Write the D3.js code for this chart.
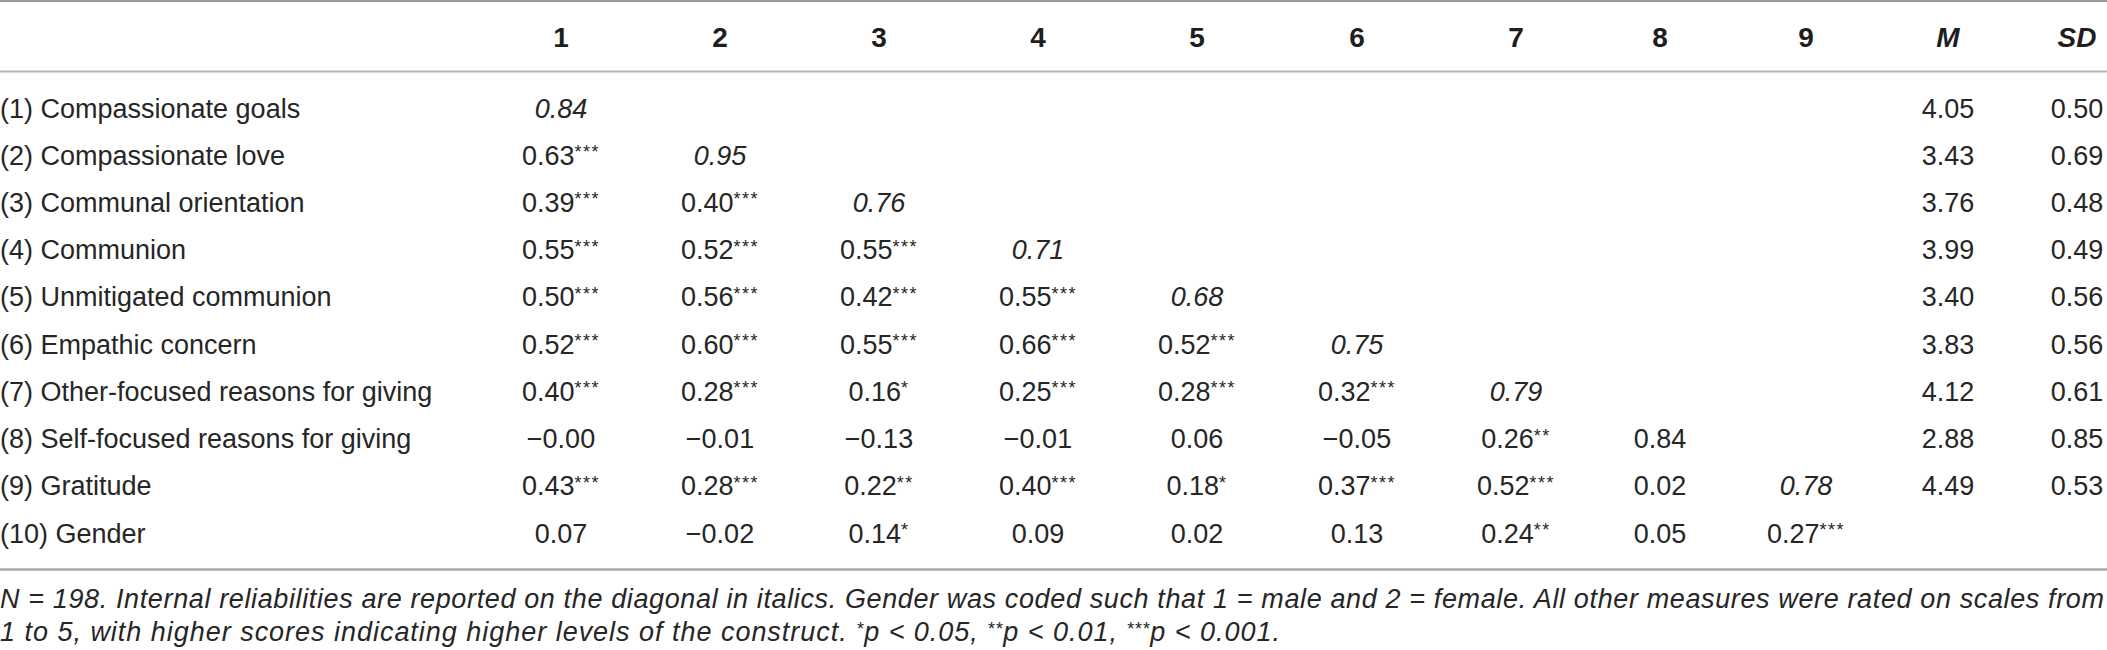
<!DOCTYPE html>
<html><head><meta charset="utf-8">
<script src="https://cdn.jsdelivr.net/npm/d3@7/dist/d3.min.js"></script>
<style>
html,body{margin:0;padding:0;background:#fff;}
svg text{font-family:"Liberation Sans",Arial,Helvetica,sans-serif;}
</style></head>
<body><svg id="chart" width="2107" height="650"></svg>
<script>
// ---- data ----
const rowLabels = [
  "(1) Compassionate goals",
  "(2) Compassionate love",
  "(3) Communal orientation",
  "(4) Communion",
  "(5) Unmitigated communion",
  "(6) Empathic concern",
  "(7) Other-focused reasons for giving",
  "(8) Self-focused reasons for giving",
  "(9) Gratitude",
  "(10) Gender"
];
const colHeaders = ["1","2","3","4","5","6","7","8","9","M","SD"];
const corrValues = [
  ["0.84"],
  ["0.63","0.95"],
  ["0.39","0.40","0.76"],
  ["0.55","0.52","0.55","0.71"],
  ["0.50","0.56","0.42","0.55","0.68"],
  ["0.52","0.60","0.55","0.66","0.52","0.75"],
  ["0.40","0.28","0.16","0.25","0.28","0.32","0.79"],
  ["\u22120.00","\u22120.01","\u22120.13","\u22120.01","0.06","\u22120.05","0.26","0.84"],
  ["0.43","0.28","0.22","0.40","0.18","0.37","0.52","0.02","0.78"],
  ["0.07","\u22120.02","0.14","0.09","0.02","0.13","0.24","0.05","0.27"]
];
const corrStars = [
  [""],
  ["***",""],
  ["***","***",""],
  ["***","***","***",""],
  ["***","***","***","***",""],
  ["***","***","***","***","***",""],
  ["***","***","*","***","***","***",""],
  ["","","","","","","**",""],
  ["***","***","**","***","*","***","***","",""],
  ["","","*","","","","**","","***"]
];
const italicDiagonal = [true,true,true,true,true,true,true,false,true,false];
const means = ["4.05","3.43","3.76","3.99","3.40","3.83","4.12","2.88","4.49",""];
const sds   = ["0.50","0.69","0.48","0.49","0.56","0.56","0.61","0.85","0.53",""];
const footLines = [
  "N = 198. Internal reliabilities are reported on the diagonal in italics. Gender was coded such that 1 = male and 2 = female. All other measures were rated on scales from",
  "1 to 5, with higher scores indicating higher levels of the construct. *p < 0.05, **p < 0.01, ***p < 0.001."
];

// ---- layout ----
const W = 2107;
const fs = 27;
const ink = "#262626";
const svg = d3.select("#chart");

const x = d3.scaleOrdinal()
  .domain(colHeaders)
  .range([561, 720, 879, 1038, 1197, 1357, 1516, 1660, 1806, 1948, 2077]);
const y = d3.scalePoint()
  .domain(rowLabels)
  .range([108.3, 533.3]);
const base = 9.2;

// rules
const rules = [
  {y: 1, c: "#9a9a9a", w: 2},
  {y: 71.5, c: "#b4b4b4", w: 2},
  {y: 569.5, c: "#a8a8a8", w: 2.5}
];
svg.selectAll("line.rule").data(rules).join("line")
  .attr("class","rule")
  .attr("x1",0).attr("x2",W)
  .attr("y1",d=>d.y).attr("y2",d=>d.y)
  .attr("stroke",d=>d.c).attr("stroke-width",d=>d.w);

// header
svg.selectAll("text.hdr").data(colHeaders).join("text")
  .attr("class","hdr")
  .attr("x",d=>x(d)).attr("y",46.5)
  .attr("text-anchor","middle")
  .attr("font-size",28).attr("font-weight","bold")
  .attr("font-style",d=>(d==="M"||d==="SD")?"italic":"normal")
  .attr("fill","#1e1e1e")
  .text(d=>d);

// row labels
svg.selectAll("text.lbl").data(rowLabels).join("text")
  .attr("class","lbl")
  .attr("x",0).attr("y",d=>y(d)+base)
  .attr("font-size",fs).attr("fill",ink)
  .text(d=>d);

// correlation cells
const cells = [];
corrValues.forEach((row,i)=>row.forEach((v,j)=>{
  cells.push({r:rowLabels[i], c:colHeaders[j], v, s:corrStars[i][j], it:(i===j && italicDiagonal[i])});
}));
means.forEach((v,i)=>{ if(v) cells.push({r:rowLabels[i], c:"M", v, s:"", it:false}); });
sds.forEach((v,i)=>{ if(v) cells.push({r:rowLabels[i], c:"SD", v, s:"", it:false}); });

const ct = svg.selectAll("text.cell").data(cells).join("text")
  .attr("class","cell")
  .attr("x",d=>x(d.c)).attr("y",d=>y(d.r)+base)
  .attr("text-anchor","middle")
  .attr("font-size",fs).attr("fill",ink)
  .attr("font-style",d=>d.it?"italic":"normal");
ct.append("tspan").text(d=>d.v);
ct.filter(d=>d.s).append("tspan")
  .attr("font-size",18).attr("dy",-6.5).attr("letter-spacing",1.5).text(d=>d.s);

// footnote (asterisk runs as superscripts)
const footY = [608, 641];
const footLen = [2104, 1280];
svg.selectAll("text.foot").data(footLines).join("text")
  .attr("class","foot")
  .attr("x",0).attr("y",(d,i)=>footY[i])
  .attr("font-size",fs).attr("font-style","italic").attr("fill",ink)
  .attr("textLength",(d,i)=>footLen[i]).attr("lengthAdjust","spacing")
  .each(function(d){
    const t = d3.select(this);
    const parts = d.split(/(\*+)/).filter(p=>p.length);
    let raised = false;
    parts.forEach(p=>{
      if(/^\*+$/.test(p)){
        t.append("tspan").attr("font-size",18).attr("dy",-6.5).text(p);
        raised = true;
      } else {
        t.append("tspan").attr("dy",raised ? 6.5 : 0).text(p);
        raised = false;
      }
    });
  });
</script></body></html>
